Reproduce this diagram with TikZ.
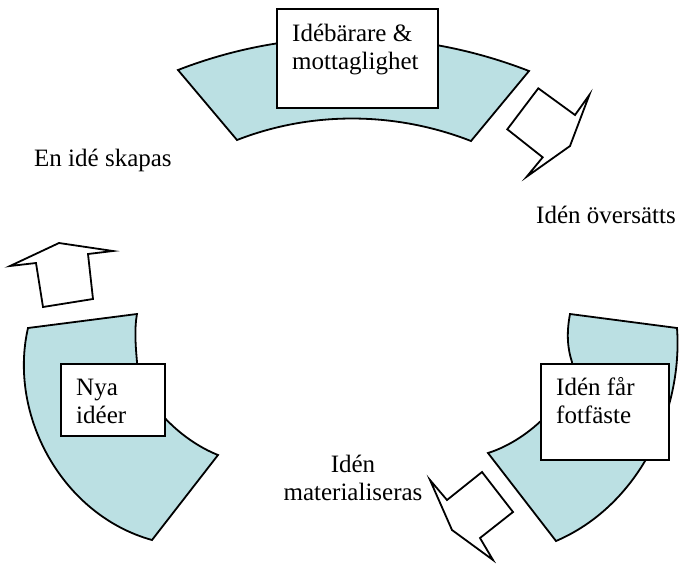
\documentclass[tikz,border=0pt]{standalone}
\usepackage{fontspec}
\setmainfont{Liberation Serif}
\definecolor{segfill}{RGB}{187,224,227}
\begin{document}
\begin{tikzpicture}[x=1pt,y=-1pt,
  seg/.style={fill=segfill,draw=black,line width=1.8pt,line join=miter},
  arr/.style={fill=white,draw=black,line width=1.8pt,line join=miter},
  box/.style={draw=black,fill=white,line width=1.8pt,inner sep=0pt,anchor=north west},
  lbl/.style={font=\fontsize{25}{28}\selectfont,inner sep=0pt,align=left,anchor=base west}]
\useasboundingbox (0,0) rectangle (680,563);
% arc segments
\path[seg] (178,70) .. controls (290.8,26.1) and (416.2,27.1) .. (529,71) -- (471,141)
  .. controls (395.8,111.7) and (312.2,110.7) .. (237,140) -- cycle;
\path[seg] (570,314) -- (677,328) .. controls (683,410) and (640,505) .. (556,541) -- (488,453)
  .. controls (530,440) and (575,395) .. (572,362) .. controls (568,350) and (566,335) .. (570,314) -- cycle;
\path[seg] (28,328) -- (137,314) .. controls (134,330) and (136,350) .. (137,362)
  .. controls (139,400) and (180,440) .. (218,455) -- (152,540)
  .. controls (62,515) and (8,415) .. (28,328) -- cycle;
% arrows
\path[arr] (538.3,88.3) -- (575,115) -- (589.3,95) -- (570,146) -- (526.7,176.7) -- (542.7,157.3) -- (507.3,129.3) -- cycle;
\path[arr] (10,266) -- (59,243) -- (113,251) -- (88,254) -- (93,299) -- (43,307) -- (36,263) -- cycle;
\path[arr] (430,480) -- (447,500) -- (482,472) -- (513,512) -- (480,538) -- (493,560) -- (452,530) -- cycle;
% boxes
\node[box,minimum width=161pt,minimum height=99pt] (btop) at (276,8) {};
\node[box,minimum width=104pt,minimum height=72pt] (bleft) at (60,363) {};
\node[box,minimum width=128pt,minimum height=96pt] (bright) at (540,363) {};
% texts (multi-line nodes: base anchor = last line's baseline)
\node[lbl] (ttop) at (292,69.5) {Idébärare \&\\mottaglighet};
\node[lbl] (tleft) at (76,423) {Nya\\idéer};
\node[lbl] (tright) at (556,423) {Idén får\\fotfäste};
\node[lbl] (c1) at (34,166) {En idé skapas};
\node[lbl] (c2) at (536,223) {Idén översätts};
\node[lbl,align=center,anchor=base] (c3) at (353,500) {Idén\\materialiseras};
\end{tikzpicture}
\end{document}
